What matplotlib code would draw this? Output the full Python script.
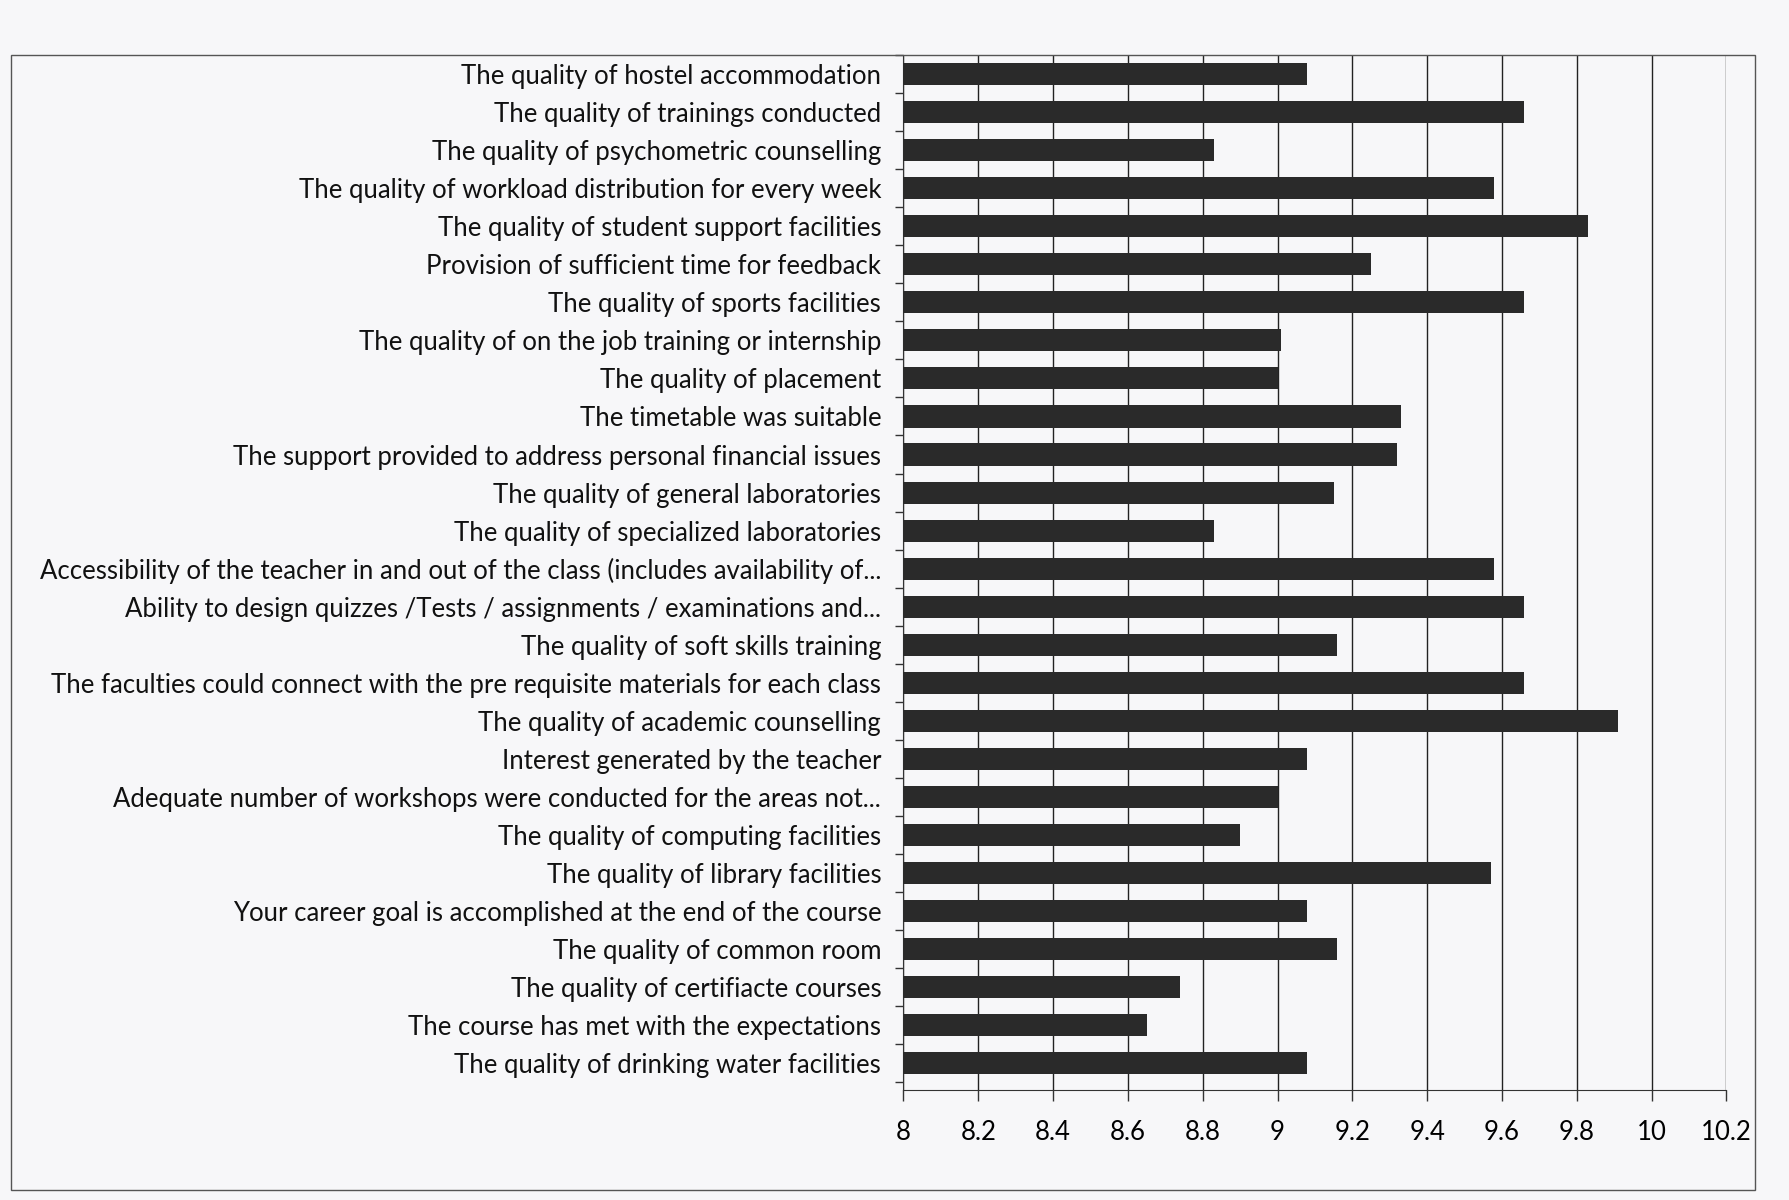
import numpy as np
import matplotlib.pyplot as plt
from matplotlib.patches import Rectangle

plt.rcParams['font.family'] = ['Lato', 'DejaVu Sans']

# categories listed bottom to top (as drawn by barh)
labels = [
    "The quality of drinking water facilities",
    "The course has met with the expectations",
    "The quality of certifiacte courses",
    "The quality of common room",
    "Your career goal is accomplished at the end of the course",
    "The quality of library facilities",
    "The quality of computing facilities",
    "Adequate number of workshops were conducted for the areas not...",
    "Interest generated by the teacher",
    "The quality of academic counselling",
    "The faculties could connect with the pre requisite materials for each class",
    "The quality of soft skills training",
    "Ability to design quizzes /Tests / assignments / examinations and...",
    "Accessibility of the teacher in and out of the class (includes availability of...",
    "The quality of specialized laboratories",
    "The quality of general laboratories",
    "The support provided to address personal financial issues",
    "The timetable was suitable",
    "The quality of placement",
    "The quality of on the job training or internship",
    "The quality of sports facilities",
    "Provision of sufficient time for feedback",
    "The quality of student support facilities",
    "The quality of workload distribution for every week",
    "The quality of psychometric counselling",
    "The quality of trainings conducted",
    "The quality of hostel accommodation",
]
scores = [9.08, 8.65, 8.74, 9.16, 9.08, 9.57, 8.90, 9.00, 9.08, 9.91,
          9.66, 9.16, 9.66, 9.58, 8.83, 9.15, 9.32, 9.33, 9.00, 9.01,
          9.66, 9.25, 9.83, 9.58, 8.83, 9.66, 9.08]

xticks = np.round(np.arange(8.0, 10.21, 0.2), 1)
xticklabels = ["8", "8.2", "8.4", "8.6", "8.8", "9", "9.2", "9.4", "9.6",
               "9.8", "10", "10.2"]

fig = plt.figure(figsize=(17.89, 12), dpi=100)
fig.patch.set_facecolor("#f7f7f9")
ax = fig.add_axes([0.505, 0.092, 0.46, 0.862])
ax.set_facecolor("#f7f7f9")

# outer chart border
fig.patches.append(Rectangle((0.006, 0.008), 0.975, 0.946, transform=fig.transFigure,
                             fill=False, edgecolor="#555555", linewidth=1.0))

y = np.arange(len(labels))
ax.barh(y, np.array(scores) - 8.0, left=8.0, height=0.58, color="#2a2a2a", zorder=3)

ax.set_xlim(8.0, 10.2)
ax.set_ylim(-0.7, len(labels) - 0.7)
ax.set_xticks(xticks)
ax.set_xticklabels(xticklabels, fontsize=18.5)
ax.set_yticks(y)
ax.set_yticklabels(labels, fontsize=18.5, color="#111111")
ax.tick_params(axis="y", length=0, pad=16)
ax.set_yticks(np.arange(-0.5, len(labels), 1), minor=True)
ax.tick_params(axis="y", which="minor", length=6, width=1, color="#333333")
ax.tick_params(axis="x", length=8, width=1, color="#333333", pad=14)

ax.grid(axis="x", color="#222222", linewidth=1.0, zorder=1)
for s in ["top", "right"]:
    ax.spines[s].set_visible(False)
ax.spines["left"].set_color("#333333")
ax.spines["bottom"].set_color("#333333")

fig.savefig("out.png", dpi=100, facecolor=fig.get_facecolor())
